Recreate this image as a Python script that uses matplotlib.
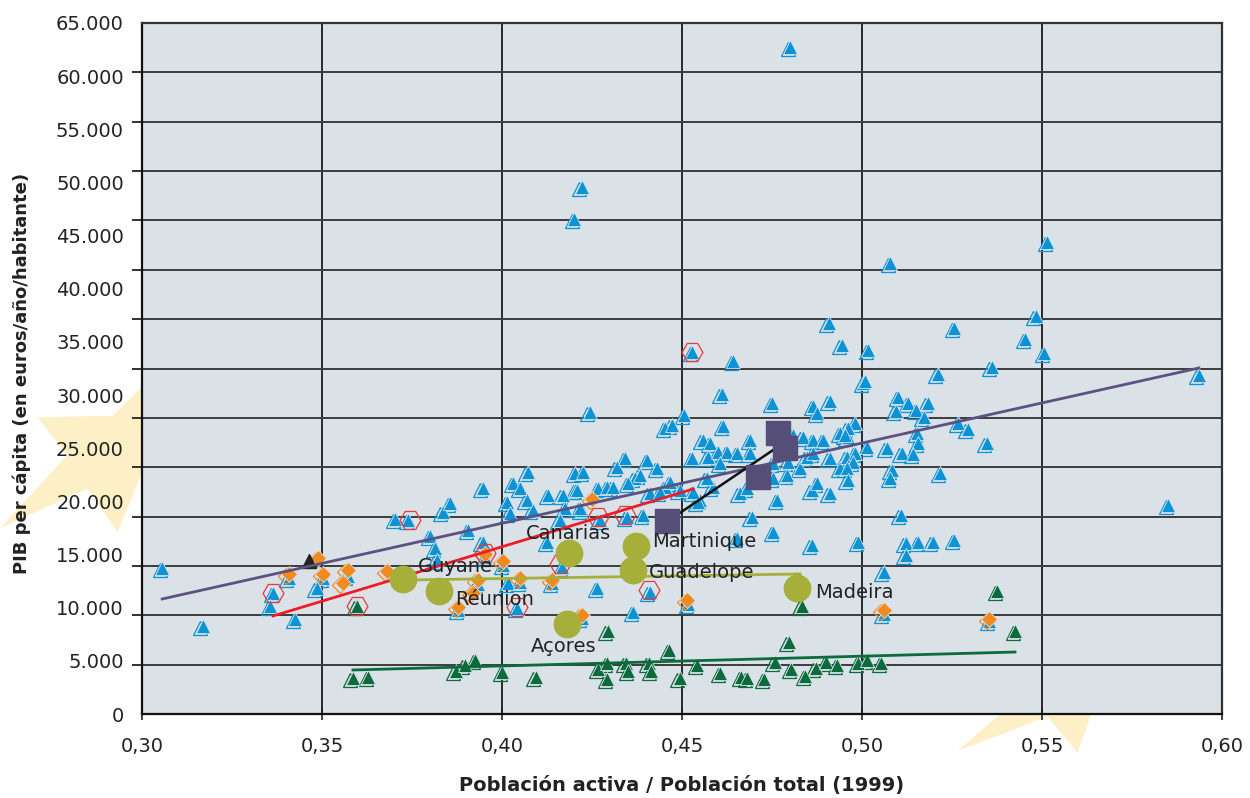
import matplotlib

matplotlib.use("Agg")

import matplotlib.pyplot as plt
import matplotlib.transforms as mtransforms
import numpy as np
from matplotlib.patches import Polygon

plt.rcParams["font.family"] = ["DejaVu Sans"]

# {{{ data

# NUTS regions (blue)
blue_x = [
    0.3056, 0.3169, 0.3364, 0.3356, 0.3425, 0.3408, 0.3503, 0.3486, 0.3703, 0.3739,
    0.3836, 0.3856, 0.3800, 0.3814, 0.3819, 0.3906, 0.3947, 0.3947, 0.4031, 0.4050,
    0.4069, 0.4086, 0.4014, 0.4022, 0.4128, 0.4072, 0.4017, 0.4042, 0.3878, 0.3953,
    0.4003, 0.4050, 0.4139, 0.4167, 0.4125, 0.4175, 0.4203, 0.4225, 0.4203, 0.4222,
    0.4267, 0.4292, 0.4319, 0.4342, 0.4403, 0.4431, 0.4369, 0.4383, 0.4453, 0.4467,
    0.4528, 0.4558, 0.4550, 0.4347, 0.4392, 0.4272, 0.4161, 0.4217, 0.4264, 0.4411,
    0.4364, 0.4222, 0.4244, 0.4200, 0.4222, 0.4453, 0.4472, 0.4506, 0.4611, 0.4642,
    0.4528, 0.4750, 0.4800, 0.4864, 0.4911, 0.4875, 0.4981, 0.5003, 0.4614, 0.4578,
    0.4689, 0.4780, 0.4808, 0.4836, 0.4864, 0.4892, 0.4939, 0.4961, 0.4572, 0.4600,
    0.4625, 0.4653, 0.4689, 0.4606, 0.4308, 0.4350, 0.4411, 0.4439, 0.4494, 0.4544,
    0.4531, 0.4586, 0.4569, 0.4661, 0.4681, 0.4753, 0.4792, 0.4828, 0.4847, 0.4864,
    0.4911, 0.4939, 0.4958, 0.4764, 0.4861, 0.4911, 0.4875, 0.4753, 0.4794, 0.4169,
    0.4208, 0.4694, 0.4753, 0.4653, 0.4861, 0.4989, 0.5483, 0.5256, 0.5453, 0.5506,
    0.4944, 0.5017, 0.5361, 0.5211, 0.5008, 0.5936, 0.5100, 0.5128, 0.5183, 0.5094,
    0.5150, 0.5172, 0.4961, 0.4953, 0.5267, 0.5294, 0.5153, 0.5156, 0.5347, 0.5014,
    0.5069, 0.5111, 0.5142, 0.4981, 0.4975, 0.4958, 0.5083, 0.5078, 0.5217, 0.4961,
    0.5850, 0.5108, 0.5122, 0.5156, 0.5197, 0.5256, 0.5514, 0.5061, 0.5122, 0.5061,
    0.5353, 0.4517, 0.5078, 0.4908, 0.3933, 0.3572,
]
blue_y = [
    13730, 8280, 11380, 10160, 8940, 12790, 12790, 11850, 18340, 18250,
    19000, 19850, 16740, 15620, 14490, 17310, 16180, 21260, 21730, 21260,
    20130, 19190, 19940, 18910, 20600, 22770, 12320, 9970, 9780, 14770,
    14020, 12420, 12320, 13830, 16180, 19380, 22670, 22770, 21070, 19190,
    21260, 21350, 23240, 24080, 23890, 23140, 22200, 22480, 21350, 21820,
    24080, 25780, 20130, 18530, 18720, 18250, 18250, 19380, 11850, 11480,
    9600, 9030, 28410, 46570, 49580, 26900, 27190, 28130, 30100, 33210,
    34050, 29260, 62750, 28970, 29440, 28320, 27370, 31140, 27090, 25490,
    25780, 26430, 26250, 26060, 25780, 25780, 26430, 26060, 24180, 24650,
    24650, 24550, 24550, 23610, 21350, 21730, 20790, 20880, 21070, 19940,
    20880, 21350, 22200, 20790, 21260, 22200, 22480, 23140, 24180, 24550,
    24080, 23140, 24180, 20130, 21070, 20790, 21730, 23610, 23710, 20600,
    21070, 18530, 17120, 16560, 15900, 16180, 37440, 36310, 35280, 33960,
    34710, 34240, 32640, 31980, 31330, 31890, 29820, 29260, 29260, 28500,
    28600, 27940, 26900, 26250, 27370, 26810, 26430, 25490, 25490, 25120,
    25020, 24550, 24460, 24550, 23710, 23140, 22950, 22200, 22670, 22010,
    19660, 18720, 16090, 16180, 16180, 16370, 44400, 13360, 14960, 9410,
    8750, 10350, 42430, 36780, 12230, 12980,
]

# regions (orange)
orange_x = [
    0.3408, 0.3489, 0.3503, 0.3558, 0.3572, 0.3681, 0.3878, 0.3919, 0.3933, 0.3953,
    0.4003, 0.4050, 0.4139, 0.4203, 0.4250, 0.4222, 0.4514, 0.5061, 0.5353,
]
orange_y = [
    13170, 14680, 13170, 12320, 13550, 13450, 10070, 11380, 12610, 15050,
    14390, 12790, 12610, 14960, 20230, 9310, 10720, 9780, 8940,
]

# regions (green)
green_x = [
    0.3586, 0.3628, 0.3597, 0.3872, 0.3897, 0.3925, 0.4000, 0.4094, 0.4294, 0.4267,
    0.4292, 0.4292, 0.4344, 0.4350, 0.4408, 0.4414, 0.4464, 0.4494, 0.4542, 0.4606,
    0.4664, 0.4681, 0.4728, 0.4758, 0.4797, 0.4803, 0.4833, 0.4842, 0.4872, 0.4900,
    0.4931, 0.4989, 0.5014, 0.5053, 0.5375, 0.5425,
]
green_y = [
    3390, 3480, 10160, 4050, 4610, 5080, 3950, 3480, 7810, 4230,
    4800, 3290, 4800, 4050, 4800, 4050, 6020, 3390, 4610, 3860,
    3480, 3390, 3290, 4890, 6770, 4230, 10160, 3570, 4330, 4890,
    4610, 4800, 5080, 4800, 11570, 7810,
]

# highlighted regions (red hexagons)
hex_x = [0.3364, 0.3597, 0.3744, 0.3953, 0.4042, 0.4161, 0.4267, 0.4342, 0.4408, 0.4528]
hex_y = [11380, 10160, 18250, 15150, 10070, 14110, 18530, 18720, 11670, 34050]

# black triangle
black_x = [0.3464]
black_y = [14390]

# outermost regions
outer_names = ["Guyane", "Réunion", "Canarias", "Martinique", "Guadelope", "Madeira", "Açores"]
outer_x = [0.3725, 0.3825, 0.4186, 0.4372, 0.4364, 0.4819, 0.4181]
outer_y = [12700, 11570, 15150, 15800, 13550, 11850, 8470]

# squares
square_x = [0.4458, 0.4711, 0.4767, 0.4786]
square_y = [18160, 22300, 26430, 25020]

# trend lines (end points)
trend_all_x = [0.3056, 0.5936]
trend_all_y = [10820, 32550]
trend_red_x = [0.3364, 0.4531]
trend_red_y = [9220, 21170]
trend_outer_x = [0.3725, 0.4828]
trend_outer_y = [12600, 13170]
trend_green_x = [0.3586, 0.5425]
trend_green_y = [4140, 5830]
trend_black_x = [0.4494, 0.4753]
trend_black_y = [18910, 24830]

yticks = np.arange(0, 65001, 5000)
ytick_labels = [f"{v:,}".replace(",", ".") for v in yticks]
xticks = [0.30, 0.35, 0.40, 0.45, 0.50, 0.55, 0.60]
xtick_labels = ["0,30", "0,35", "0,40", "0,45", "0,50", "0,55", "0,60"]

# }}}

BG = "#dae1e7"
BLUE = "#0a93d5"
GREEN = "#0b6b3c"
ORANGE = "#f28a1f"
OLIVE = "#a6af3a"
SQUARE = "#544e78"

fig = plt.figure(figsize=(12.5, 7.98), dpi=100)

# pale yellow decorations behind the chart
deco = "#fdf0c6"
fig.patches.append(Polygon(
    [(0.1144, 0.517), (0.090, 0.479), (0.030, 0.477), (0.054, 0.430),
     (0.000, 0.338), (0.070, 0.388), (0.094, 0.333), (0.1144, 0.410)],
    closed=True, transform=fig.transFigure, facecolor=deco, edgecolor="none", zorder=0))
fig.patches.append(Polygon(
    [(0.800, 0.105), (0.766, 0.059), (0.838, 0.102), (0.862, 0.057), (0.873, 0.105)],
    closed=True, transform=fig.transFigure, facecolor=deco, edgecolor="none", zorder=0))

ax = fig.add_axes([142 / 1250, 1 - 714 / 798, 1080 / 1250, 691 / 798])
ax.set_facecolor(BG)
ax.set_zorder(1)


def double_marker(x, y, color, marker, ms, zorder):
    # outlined copy slightly down-left, filled marker on top
    shifted = mtransforms.offset_copy(ax.transData, fig=fig, x=-2.5, y=-2, units="dots")
    ax.plot(x, y, linestyle="none", marker=marker, ms=ms, mfc="none", mec=color,
            mew=0.9, transform=shifted, zorder=zorder)
    ax.plot(x, y, linestyle="none", marker=marker, ms=ms, mfc=color, mec=BG,
            mew=0.6, zorder=zorder)


double_marker(blue_x, blue_y, BLUE, "^", 10, 3)
double_marker(green_x, green_y, GREEN, "^", 10, 3)
double_marker(orange_x, orange_y, ORANGE, "D", 8, 4)
ax.plot(black_x, black_y, linestyle="none", marker="^", ms=9.5, color="#222222", zorder=4)
ax.plot(hex_x, hex_y, linestyle="none", marker="H", ms=15, mfc="none", mec="#e83a3a",
        mew=0.9, zorder=4)

ax.plot(trend_all_x, trend_all_y, color="#5b5282", lw=2, zorder=5)
ax.plot(trend_red_x, trend_red_y, color="#ee1c25", lw=2, zorder=5)
ax.plot(trend_outer_x, trend_outer_y, color=OLIVE, lw=2, zorder=5)
ax.plot(trend_green_x, trend_green_y, color=GREEN, lw=2, zorder=5)
ax.plot(trend_black_x, trend_black_y, color="#111111", lw=1.8, zorder=5)

ax.plot(square_x, square_y, linestyle="none", marker="s", ms=17, color=SQUARE, zorder=6)
ax.plot(outer_x, outer_y, linestyle="none", marker="o", ms=19, color=OLIVE, zorder=6)

label_offsets = [(11, 9), (11.5, -6), (-31, 14), (11.5, 3), (11.5, -1.5), (13.5, -3), (-26.5, -16.5)]
for name, x, y, off in zip(outer_names, outer_x, outer_y, label_offsets):
    ax.annotate(name, (x, y), xytext=off, textcoords="offset points", ha="left",
                va="center", fontsize=14, color="#222222", zorder=7)

# axes
ax.set_xlim(0.30, 0.60)
ax.set_ylim(0, 65000)
ax.set_xticks(xticks)
ax.set_xticklabels(xtick_labels)
ax.set_yticks(yticks)
ax.set_yticklabels(ytick_labels)
# the grid has 14 bands, not aligned with the 5.000 labels
ax.set_yticks(np.linspace(0, 65000, 15), minor=True)

ax.tick_params(axis="y", which="major", length=0, pad=13, labelsize=14, labelcolor="#222222")
ax.tick_params(axis="y", which="minor", length=7, width=1.3, direction="out", color="#222222")
ax.tick_params(axis="x", which="major", length=9, width=1.2, direction="inout",
               pad=12, labelsize=14, labelcolor="#222222", color="#222222")

ax.yaxis.grid(True, which="minor", color="#3c3c3c", lw=1.4)
ax.xaxis.grid(True, which="major", color="#2a2a2a", lw=1.4)
ax.set_axisbelow(True)

for side in ("left", "bottom"):
    ax.spines[side].set_color("#111111")
    ax.spines[side].set_linewidth(1.6)
for side in ("top", "right"):
    ax.spines[side].set_color("#333333")
    ax.spines[side].set_linewidth(1.6)

fig.text(682 / 1250, 1 - 785 / 798, "Población activa / Población total (1999)",
         ha="center", va="center", fontsize=14, fontweight="bold", color="#222222")
fig.text(22 / 1250, 1 - 373 / 798, "PIB per cápita (en euros/año/habitante)",
         ha="center", va="center", rotation=90, fontsize=13, fontweight="bold",
         color="#222222")

fig.savefig("out.png", dpi=100, facecolor="white")
